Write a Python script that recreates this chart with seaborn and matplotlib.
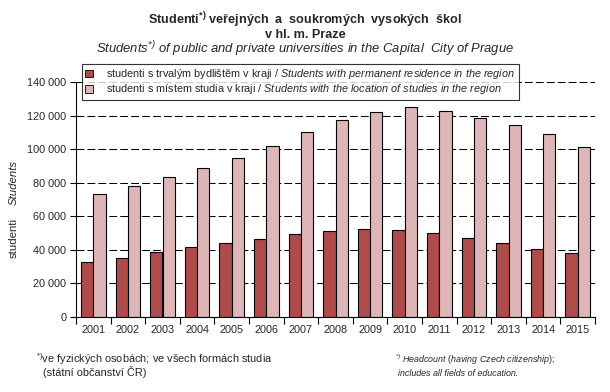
import pandas as pd
import matplotlib
matplotlib.use('Agg')
import matplotlib.pyplot as plt
import seaborn as sns
from matplotlib.patches import Patch
from matplotlib.ticker import FuncFormatter, FixedLocator

years = ['2001', '2002', '2003', '2004', '2005', '2006', '2007', '2008',
         '2009', '2010', '2011', '2012', '2013', '2014', '2015']
residence = [33000, 35300, 39000, 42000, 44300, 46700, 49400, 51200,
             52400, 51800, 50000, 47000, 44100, 40600, 38200]
study_location = [73500, 77800, 83700, 88800, 94700, 102000, 110000, 117600,
                  122400, 124900, 122900, 118800, 114300, 109000, 101200]

series_cz = ['studenti s trvalým bydlištěm v kraji',
             'studenti s místem studia v kraji']
series_en = ['Students with permanent residence in the region',
             'Students with the location of studies in the region']
colors = ['#B04B4B', '#DEB6B8']

sns.set_style('white')
plt.rcParams['font.family'] = ['Liberation Sans', 'DejaVu Sans']
plt.rcParams['mathtext.fontset'] = 'custom'
plt.rcParams['mathtext.rm'] = 'Liberation Sans'
plt.rcParams['mathtext.it'] = 'Liberation Sans:italic'
plt.rcParams['mathtext.bf'] = 'Liberation Sans:bold'
plt.rcParams['mathtext.default'] = 'regular'

df = pd.DataFrame({
    'year': years * 2,
    'value': residence + study_location,
    'series': [series_cz[0]] * len(years) + [series_cz[1]] * len(years),
})

fig = plt.figure(figsize=(6.1, 3.92), dpi=100)
ax = fig.add_axes([76 / 610, 1 - 317 / 392, (595 - 76) / 610, (317 - 82) / 392])

sns.barplot(data=df, x='year', y='value', hue='series', hue_order=series_cz,
            palette=colors, saturation=1, width=0.71, edgecolor='black',
            linewidth=0.8, legend=False, ax=ax)

ax.set_xlim(-0.5, len(years) - 0.5)
ax.set_ylim(0, 140000)
ax.set_yticks(range(0, 140001, 20000))
ax.yaxis.set_major_formatter(FuncFormatter(lambda v, p: f'{int(v):,}'.replace(',', ' ')))
ax.yaxis.grid(True, color='black', linestyle=(0, (7.5, 3)), linewidth=0.75)
ax.set_axisbelow(True)

ax.xaxis.set_minor_locator(FixedLocator([i - 0.5 for i in range(len(years) + 1)]))
ax.tick_params(axis='x', which='major', length=0, pad=6, labelsize=7.8)
ax.tick_params(axis='x', which='minor', length=5, width=0.8, direction='out', color='black', bottom=True)
ax.tick_params(axis='y', length=4, width=0.8, direction='out', color='black', left=True, labelsize=7.8, pad=3)
ax.set_xlabel('')
ax.set_ylabel('')
for s in ['top', 'right']:
    ax.spines[s].set_visible(False)
for s in ['left', 'bottom']:
    ax.spines[s].set_color('black')
    ax.spines[s].set_linewidth(0.8)

# legend: Czech text regular, English italic
labels = []
for cz, en in zip(series_cz, series_en):
    en_it = en.replace(' ', r'\ ')
    labels.append(cz + r' / $\mathit{' + en_it + '}$')
handles = [Patch(facecolor=c, edgecolor='black', linewidth=0.6) for c in colors]
leg = fig.legend(handles, labels, loc='upper left', bbox_to_anchor=(82 / 610, 1 - 64 / 392),
                 borderaxespad=0, fontsize=7.8, frameon=True, fancybox=False,
                 edgecolor='black', handlelength=0.75, handleheight=0.75,
                 handletextpad=1.2, labelspacing=0.1, borderpad=0.3)
leg.get_frame().set_linewidth(0.8)

# titles
tx = 0.5
fig.text(tx, 1 - 20 / 392, r'Studenti$^{*)}$ veřejných  a  soukromých  vysokých  škol',
         ha='center', va='center', fontsize=9.1, fontweight='bold')
fig.text(tx, 1 - 35 / 392, 'v hl. m. Praze', ha='center', va='center',
         fontsize=9.1, fontweight='bold')
fig.text(tx, 1 - 49.5 / 392,
         r'$\mathit{Students}^{*)}$ of public and private universities in the Capital  City of Prague',
         ha='center', va='center', fontsize=9.4, style='italic')

# y axis labels
fig.text(14 / 610, 1 - 238 / 392, 'studenti', rotation=90, ha='center', va='center', fontsize=8.2)
fig.text(14 / 610, 1 - 182 / 392, 'Students', rotation=90, ha='center', va='center',
         fontsize=8.2, style='italic')

# footnotes
fig.text(36 / 610, 1 - 363 / 392, r'$^{*)}$ve fyzických osobách; ve všech formách studia',
         ha='left', va='baseline', fontsize=7.9)
fig.text(43 / 610, 1 - 376 / 392, '(státní občanství ČR)', ha='left', va='baseline', fontsize=7.9)
fig.text(395 / 610, 1 - 363 / 392, r'$^{*)}$ $\mathit{Headcount\ (having\ Czech\ citizenship);}$',
         ha='left', va='baseline', fontsize=6.4, style='italic')
fig.text(398 / 610, 1 - 376 / 392, 'includes all fields of education.', ha='left', va='baseline',
         fontsize=6.4, style='italic')

fig.savefig('out.png', dpi=100)
